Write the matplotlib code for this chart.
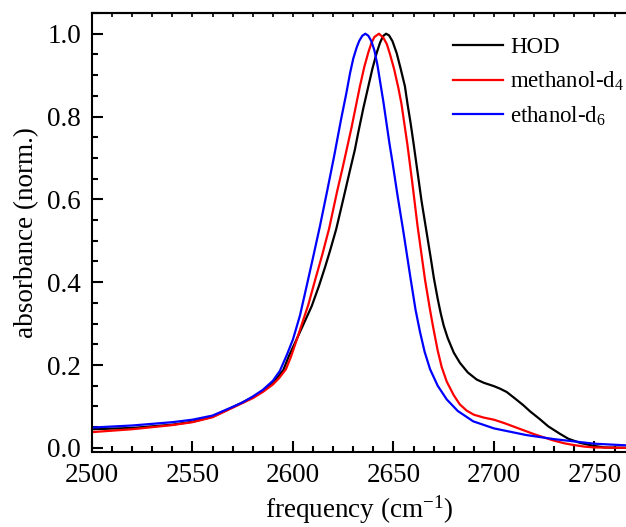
import matplotlib
matplotlib.use("Agg")
import matplotlib.pyplot as plt
from matplotlib.ticker import MultipleLocator, FormatStrFormatter

plt.rcParams["font.family"] = ["Liberation Serif", "DejaVu Serif"]
plt.rcParams["mathtext.fontset"] = "custom"
plt.rcParams["mathtext.rm"] = "Liberation Serif"
plt.rcParams["mathtext.default"] = "regular"

# ---- data (frequency in cm-1, normalised absorbance) ----
hod_freq = [2500, 2520, 2540, 2550, 2560, 2570, 2580, 2585, 2590, 2595.2, 2598,
            2601.8, 2605, 2609.3, 2613, 2616, 2618.5, 2621.5, 2625, 2628.4,
            2630.8, 2632.5, 2635, 2637.5, 2639.5, 2641.6, 2643.3, 2644.8, 2646.3,
            2647.8, 2649.5, 2651.6, 2653.5, 2655.7, 2657, 2658.5, 2660, 2662,
            2664, 2666.5, 2668.5, 2670.1, 2672, 2673.5, 2675, 2677, 2680, 2683.1,
            2687, 2691.4, 2695, 2700, 2703, 2706.3, 2710, 2714.6, 2718, 2722.9,
            2727, 2732.8, 2737, 2742.8, 2749.4, 2755, 2766]
hod_abs = [0.045, 0.048, 0.056, 0.063, 0.075, 0.098, 0.122, 0.137, 0.156, 0.188,
           0.222, 0.262, 0.296, 0.342, 0.392, 0.437, 0.477, 0.528, 0.60, 0.671,
           0.72, 0.762, 0.82, 0.873, 0.915, 0.953, 0.978, 0.994, 1.0,
           0.996, 0.982, 0.953, 0.917, 0.873, 0.83, 0.785, 0.735, 0.665,
           0.595, 0.52, 0.46, 0.41, 0.36, 0.325, 0.295, 0.265, 0.23, 0.205,
           0.182, 0.165, 0.157, 0.149, 0.143, 0.135, 0.121, 0.103, 0.088, 0.069,
           0.052, 0.034, 0.022, 0.012, 0.005, 0.001, 0.0]

meoh_freq = [2500, 2520, 2540, 2550, 2560, 2570, 2580, 2585, 2590, 2593, 2596.5,
             2599, 2601.8, 2604.5, 2607.6, 2611, 2614.5, 2618, 2622, 2624.5,
             2626.7, 2629.2, 2631.5, 2633.3, 2635.5, 2637.5, 2639, 2640.5, 2642.8,
             2645, 2646.7, 2648.3, 2650.3, 2652.4, 2654, 2655.5, 2657, 2659.5,
             2662, 2665.7, 2668.2, 2669.8, 2672, 2674, 2676.5, 2680, 2683, 2686.4,
             2690, 2695, 2700, 2705, 2710, 2715, 2720, 2725, 2729.5, 2735, 2739.5,
             2745, 2750, 2766]
meoh_abs = [0.038, 0.045, 0.055, 0.062, 0.074, 0.097, 0.120, 0.135, 0.153, 0.168,
            0.19, 0.22, 0.26, 0.30, 0.345, 0.405, 0.465, 0.53, 0.62, 0.672,
            0.72, 0.775, 0.83, 0.873, 0.92, 0.955, 0.977, 0.992, 1.0,
            0.99, 0.975, 0.95, 0.915, 0.87, 0.83, 0.78, 0.73, 0.635,
            0.535, 0.406, 0.333, 0.29, 0.235, 0.195, 0.16, 0.127, 0.105, 0.09,
            0.08, 0.073, 0.068, 0.06, 0.051, 0.042, 0.033, 0.025, 0.018, 0.011,
            0.007, 0.003, 0.001, 0.0]

etoh_freq = [2500, 2520, 2540, 2550, 2560, 2570, 2575, 2580, 2585, 2590, 2593.5,
             2597, 2600, 2603.5, 2607, 2610, 2613.4, 2617, 2620.5, 2624, 2626.5,
             2628.4, 2630, 2631.7, 2633, 2634.5, 2636, 2637.5, 2639, 2640.5, 2642,
             2643.5, 2645, 2646.5, 2648, 2649.5, 2652, 2655, 2658.6, 2661, 2663.2,
             2665.5, 2668.2, 2672, 2676.5, 2682, 2689.7, 2700, 2716, 2730, 2750,
             2766]
etoh_abs = [0.049, 0.054, 0.062, 0.068, 0.078, 0.099, 0.11, 0.124, 0.140, 0.162,
            0.186, 0.225, 0.262, 0.32, 0.395, 0.46, 0.535, 0.62, 0.705, 0.795,
            0.855, 0.905, 0.94, 0.967, 0.983, 0.995, 1.0, 0.995, 0.982, 0.96,
            0.925, 0.88, 0.835, 0.785, 0.735, 0.69, 0.61, 0.52, 0.406, 0.333,
            0.28, 0.232, 0.19, 0.15, 0.117, 0.089, 0.064, 0.047, 0.031, 0.021,
            0.010, 0.006]

series = [
    (hod_freq, hod_abs, "black", "HOD"),
    (meoh_freq, meoh_abs, "red", "methanol-d$_4$"),
    (etoh_freq, etoh_abs, "blue", "ethanol-d$_6$"),
]

fig = plt.figure(figsize=(6.26, 5.27), dpi=100)
ax = fig.add_axes([92 / 626, 1 - 452 / 527, 1 - 92 / 626, (452 - 13) / 527])

for f, a, color, label in series:
    ax.plot(f, a, color=color, lw=1.6, label=label)

ax.set_xlim(2500, 2765.7)
ax.set_ylim(-0.01, 1.05)
ax.xaxis.set_major_locator(MultipleLocator(50))
ax.xaxis.set_minor_locator(MultipleLocator(10))
ax.yaxis.set_major_locator(MultipleLocator(0.2))
ax.yaxis.set_minor_locator(MultipleLocator(0.05))
ax.yaxis.set_major_formatter(FormatStrFormatter("%.1f"))

ax.tick_params(which="both", direction="in", width=1.5, labelsize=19.5,
               top=False, right=False)
ax.tick_params(which="major", length=8, pad=8)
ax.tick_params(which="minor", length=4.5)
for side in ("left", "bottom", "top"):
    ax.spines[side].set_linewidth(1.5)
ax.spines["right"].set_visible(False)

# short ticks along the top edge, no labels
top = ax.secondary_xaxis("top")
top.xaxis.set_major_locator(MultipleLocator(10))
top.tick_params(direction="in", length=3, width=1.2, labeltop=False)
top.spines["top"].set_linewidth(1.5)

ax.set_xlabel("frequency (cm$^{-1}$)", fontsize=19.5, labelpad=4)
ax.set_ylabel("absorbance (norm.)", fontsize=19.5, labelpad=6)

ax.legend(loc="upper left", frameon=False, fontsize=16.5, handlelength=2.2,
          handletextpad=0.3, labelspacing=0.5, borderpad=0, borderaxespad=0,
          bbox_to_anchor=((453 - 92) / 534, 0.945))

fig.savefig("out.png", dpi=100)
